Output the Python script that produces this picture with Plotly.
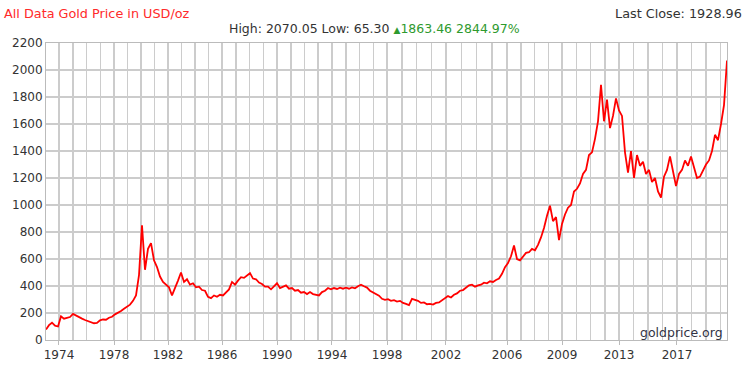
import plotly.graph_objects as go

# Gold price (USD/oz), one reading per equally spaced sample along the x-axis
prices = [
    78, 110, 128, 106, 100, 175, 158, 165, 170, 193,
    180, 168, 158, 148, 140, 136, 124, 126, 146, 152,
    150, 165, 172, 190, 200, 215, 232, 245, 262, 290,
    330, 480, 850, 520, 675, 718, 590, 540, 470, 430,
    410, 390, 330, 380, 440, 500, 430, 450, 410, 420,
    390, 395, 370, 365, 320, 310, 330, 320, 335, 330,
    355, 375, 430, 410, 440, 465, 460, 480, 495, 455,
    450, 425, 415, 395, 395, 375, 400, 420, 385, 395,
    405, 380, 385, 365, 370, 350, 355, 340, 355, 340,
    335, 330, 355, 365, 385, 375, 385, 378, 388, 380,
    388, 380, 390, 383, 398, 410, 398, 388, 365, 352,
    340, 328, 305, 298, 302, 290, 295, 285, 290, 275,
    268, 258, 305, 300, 290, 275, 278, 265, 268, 262,
    275, 278, 292, 310, 325, 315, 335, 345, 365, 370,
    390, 405, 410, 395, 405, 410, 425, 420, 435, 430,
    445, 455, 490, 540, 570, 620, 700, 600, 590, 620,
    645, 650, 675, 665, 705, 760, 830, 920, 995, 880,
    910, 740, 860, 930, 980, 1000, 1100, 1120, 1160, 1230,
    1260, 1370, 1390, 1490, 1620, 1890, 1620, 1780, 1570, 1660,
    1790, 1700, 1660, 1390, 1240, 1400, 1200, 1370, 1290, 1320,
    1230, 1260, 1170, 1200, 1100, 1055, 1210, 1260, 1360, 1250,
    1140, 1230, 1260, 1330, 1290, 1360, 1280, 1200, 1210, 1260,
    1300, 1330, 1400, 1520, 1480, 1600, 1740, 2070,
]

# Year labels and the sample index at which each one sits
tick_labels = ["1974", "1978", "1982", "1986", "1990", "1994",
               "1998", "2002", "2006", "2009", "2013", "2017"]
tick_samples = [4.33, 22.67, 40.67, 58.67, 77.0, 95.33,
                113.67, 133.33, 153.67, 172.0, 191.0, 210.33]

y_ticks = list(range(0, 2201, 200))

x_idx = list(range(len(prices)))

# minor gridlines: four per labelled interval
minor = []
first_gap = (tick_samples[1] - tick_samples[0]) / 4
minor.append(tick_samples[0] - first_gap)
for a, b in zip(tick_samples[:-1], tick_samples[1:]):
    step = (b - a) / 4
    minor += [a + step * k for k in (1, 2, 3)]
last_gap = (tick_samples[-1] - tick_samples[-2]) / 4
k = 1
while tick_samples[-1] + last_gap * k < len(prices) - 1:
    minor.append(tick_samples[-1] + last_gap * k)
    k += 1

FONT = "DejaVu Sans"
GRID = "#cccccc"

fig = go.Figure()
fig.add_trace(go.Scatter(
    x=x_idx, y=prices, mode="lines",
    line=dict(color="#ff0000", width=1.8),
    hoverinfo="skip", showlegend=False,
))

fig.update_layout(
    width=749, height=374,
    margin=dict(l=46, r=22, t=43, b=21),
    paper_bgcolor="white", plot_bgcolor="white",
    font=dict(family=FONT, size=12, color="#333333"),
    xaxis=dict(
        range=[0, len(prices) - 1],
        tickmode="array", tickvals=tick_samples, ticktext=tick_labels,
        showgrid=True, gridcolor=GRID, gridwidth=1.5,
        ticks="outside", ticklen=4, tickcolor="#bbbbbb",
        showline=True, linecolor="#bbbbbb", mirror=True,
        zeroline=False,
        tickfont=dict(family=FONT, size=12, color="#333333"),
        minor=dict(tickmode="array", tickvals=minor, showgrid=True,
                   gridcolor=GRID, gridwidth=1.5, ticks=""),
    ),
    yaxis=dict(
        range=[0, 2200],
        tickmode="array", tickvals=y_ticks,
        showgrid=True, gridcolor=GRID, gridwidth=1.5,
        showline=True, linecolor="#bbbbbb", mirror=True,
        zeroline=False, ticks="",
        tickfont=dict(family=FONT, size=12, color="#333333"),
    ),
    annotations=[
        dict(xref="paper", yref="paper", x=-0.065, y=1.10, xanchor="left", yanchor="middle",
             text="All Data Gold Price in USD/oz", showarrow=False,
             font=dict(family=FONT, size=12.8, color="#ff2a2a")),
        dict(xref="paper", yref="paper", x=1.025, y=1.10, xanchor="right", yanchor="middle",
             text="Last Close: 1928.96", showarrow=False,
             font=dict(family=FONT, size=12.8, color="#333333")),
        dict(xref="paper", yref="paper", x=0.4826, y=1.048, xanchor="center", yanchor="middle",
             text="High: 2070.05 Low: 65.30 <span style='color:#2e9a2e;font-size:9px'>▲</span>"
                  "<span style='color:#2e9a2e'>1863.46 2844.97%</span>",
             showarrow=False,
             font=dict(family=FONT, size=12.5, color="#333333")),
        dict(xref="paper", yref="paper", x=0.997, y=0.026, xanchor="right", yanchor="middle",
             text="goldprice.org", showarrow=False,
             font=dict(family=FONT, size=12.5, color="#333344")),
    ],
)

fig.write_html(
    "out.html",
    config={"displayModeBar": False, "staticPlot": True},
    post_script="document.body.style.margin='0';document.body.style.overflow='hidden';",
)
